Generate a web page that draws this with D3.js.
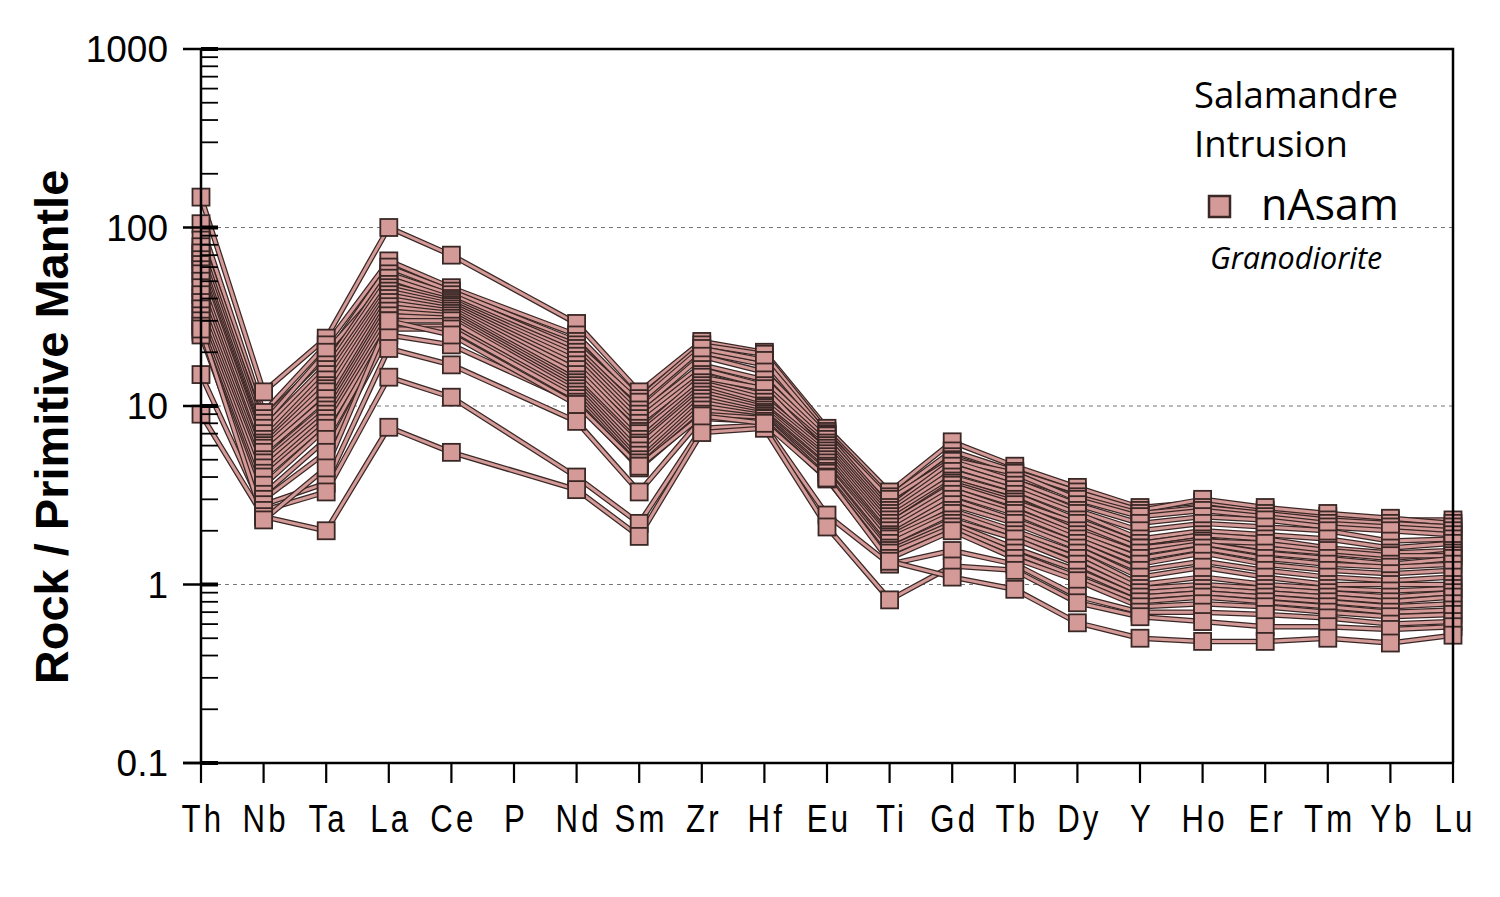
<!DOCTYPE html>
<html>
<head>
<meta charset="utf-8">
<script src="https://cdn.jsdelivr.net/npm/d3@7"></script>
<style>
  body { margin: 0; background: #fff; }
  svg { display: block; }
</style>
</head>
<body>
<svg></svg>
<script>
// element order of the primitive-mantle spider diagram (P has no analyses)
const elements = ["Th", "Nb", "Ta", "La", "Ce", "P", "Nd", "Sm", "Zr", "Hf", "Eu",
  "Ti", "Gd", "Tb", "Dy", "Y", "Ho", "Er", "Tm", "Yb", "Lu"];

const yTicks = [0.1, 1, 10, 100, 1000];
const gridValues = [1, 10, 100];

// nAsam granodiorite samples, normalised values
const s01 = [148, 12, 24, 100, 70, null, 29, 12, 23, 20, 7.5, 3.3, 6.3, 4.6, 3.5, 2.7, 2.9, 2.6, 2.4, 2.3, 2.3];
const s02 = [105, 9.2, 22, 65, 46, null, 25, 11, 22, 19.5, 7.2, 3.1, 5.6, 4.3, 3.3, 2.6, 3.0, 2.7, 2.5, 2.35, 2.2];
const s03 = [85, 8.5, 19, 60, 44, null, 23, 10, 20, 17, 7.0, 2.9, 5.2, 4.0, 3.1, 2.5, 2.7, 2.5, 2.3, 2.2, 2.1];
const s04 = [70, 8.0, 20, 50, 41, null, 22, 10.5, 21, 18, 6.9, 3.0, 5.0, 4.2, 3.0, 2.4, 2.6, 2.4, 2.2, 2.1, 2.0];
const s05 = [78, 7.5, 17, 55, 42, null, 21, 9.5, 19, 15.5, 6.8, 2.7, 4.9, 3.8, 2.8, 2.2, 2.4, 2.3, 2.1, 2.0, 1.9];
const s06 = [72, 7.0, 16, 52, 40, null, 20, 9.0, 17, 14, 6.5, 2.6, 4.6, 3.6, 2.6, 2.0, 2.2, 2.1, 2.0, 1.75, 1.8];
const s07 = [66, 6.5, 15, 48, 39, null, 19, 8.5, 16, 13, 6.2, 2.5, 4.3, 3.4, 2.5, 1.8, 2.0, 1.9, 1.8, 1.6, 1.7];
const s08 = [62, 6.2, 14, 46, 38, null, 18, 8.0, 15, 12, 6.0, 2.4, 4.0, 3.2, 2.3, 1.7, 1.9, 1.8, 1.6, 1.5, 1.55];
const s09 = [58, 6.0, 13, 44, 37, null, 17, 7.5, 14, 11.5, 5.8, 2.3, 3.8, 3.0, 2.1, 1.6, 1.8, 1.6, 1.5, 1.4, 1.5];
const s10 = [40, 4.6, 12.5, 35, 36, null, 15.5, 7.2, 14.5, 12.5, 5.5, 2.2, 3.7, 2.9, 2.2, 1.6, 1.75, 1.7, 1.55, 1.45, 1.45];
const s11 = [55, 5.8, 12, 42, 36, null, 16, 7.0, 13.5, 11, 5.6, 2.2, 3.6, 2.8, 2.0, 1.5, 1.7, 1.5, 1.4, 1.3, 1.4];
const s12 = [50, 5.5, 11, 40, 35, null, 15, 6.5, 13, 10.5, 5.4, 2.1, 3.4, 2.6, 1.9, 1.4, 1.6, 1.4, 1.3, 1.25, 1.3];
const s13 = [46, 5.0, 10, 38, 34, null, 14, 6.2, 12.5, 10, 5.2, 2.0, 3.2, 2.5, 1.8, 1.3, 1.5, 1.3, 1.2, 1.15, 1.2];
const s14 = [42, 4.8, 9.5, 36, 33, null, 13.5, 6.0, 12, 9.8, 5.0, 1.9, 3.0, 2.3, 1.7, 1.2, 1.35, 1.2, 1.1, 1.05, 1.1];
const s15 = [38, 4.5, 9.0, 34, 32, null, 13, 5.6, 11.5, 9.5, 4.8, 1.85, 2.8, 2.2, 1.6, 1.1, 1.25, 1.1, 1.0, 1.0, 1.0];
const s16 = [35, 4.2, 8.5, 32, 31, null, 12.5, 5.3, 11, 9.2, 4.6, 1.8, 2.6, 2.0, 1.5, 1.0, 1.1, 1.0, 0.95, 0.92, 0.95];
const s17 = [32, 4.0, 8.0, 30, 30, null, 12, 5.0, 10.5, 9.0, 4.5, 1.7, 2.5, 1.9, 1.4, 0.95, 1.0, 0.95, 0.9, 0.85, 0.9];
const s18 = [30, 3.6, 7.5, 28, 28, null, 11.5, 4.8, 10, 8.8, 4.3, 1.6, 2.3, 1.8, 1.3, 0.9, 0.95, 0.9, 0.85, 0.8, 0.85];
const s19 = [28, 3.2, 6.5, 27, 27, null, 11, 4.6, 9.5, 8.6, 4.2, 1.55, 2.2, 1.6, 1.2, 0.85, 0.9, 0.85, 0.8, 0.75, 0.78];
const s20 = [26, 3.0, 5.5, 25, 22, null, 10.5, 4.5, 9.0, 8.5, 4.0, 1.5, 2.1, 1.5, 1.1, 0.8, 0.85, 0.8, 0.75, 0.7, 0.72];
const s21 = [25, 2.8, 3.7, 21, 17, null, 8.2, 3.3, 8.5, 8.2, 3.9, 1.4, 2.0, 1.4, 1.05, 0.75, 0.78, 0.75, 0.7, 0.66, 0.68];
const s22 = [15, 2.6, 3.3, 14.5, 11.2, null, 4.0, 2.2, 7.5, 7.8, 2.45, 1.3, 1.55, 1.3, 0.86, 0.7, 0.7, 0.68, 0.65, 0.6, 0.62];
const s23 = [9, 2.4, 2.0, 7.6, 5.5, null, 3.4, 1.86, 7.1, 7.5, 2.1, 0.82, 1.27, 1.2, 0.79, 0.66, 0.62, 0.58, 0.58, 0.56, 0.58];
const s24 = [27, 2.3, 4.5, 30, 25, null, 10.2, 4.6, 8.8, 8.0, 3.95, 1.35, 1.1, 0.94, 0.61, 0.5, 0.48, 0.48, 0.5, 0.47, 0.52];

const samples = [s01, s02, s03, s04, s05, s06, s07, s08, s09, s10, s11, s12,
  s13, s14, s15, s16, s17, s18, s19, s20, s21, s22, s23, s24];

const width = 1500;
const height = 897;
const plotLeft = 201, plotRight = 1453, plotTop = 49, plotBottom = 763;

const fill = "#d49a98";
const dark = "#3a2826";

const svg = d3.select("svg").attr("width", width).attr("height", height);

const x = d3.scalePoint().domain(elements).range([plotLeft, plotRight]);
const y = d3.scaleLog().domain([0.1, 1000]).range([plotBottom, plotTop]);

// dashed gridlines
svg.append("g")
  .selectAll("line")
  .data(gridValues)
  .join("line")
  .attr("x1", plotLeft)
  .attr("x2", plotRight)
  .attr("y1", d => y(d))
  .attr("y2", d => y(d))
  .attr("stroke", "#777")
  .attr("stroke-width", 1.2)
  .attr("stroke-dasharray", "4,4");

// sample lines (dark casing with pink core), P is skipped
const points = samples.map(s =>
  s.map((v, i) => ({ el: elements[i], v: v })).filter(d => d.v != null)
);

const line = d3.line().x(d => x(d.el)).y(d => y(d.v));

const lineGroup = svg.append("g").attr("fill", "none");
points.forEach(p => {
  lineGroup.append("path")
    .attr("d", line(p))
    .attr("stroke", dark)
    .attr("stroke-width", 5.5)
    .attr("stroke-linejoin", "round");
  lineGroup.append("path")
    .attr("d", line(p))
    .attr("stroke", fill)
    .attr("stroke-width", 3)
    .attr("stroke-linejoin", "round");
});

// square markers
const markerSize = 17;
svg.append("g")
  .selectAll("g")
  .data(points)
  .join("g")
  .selectAll("rect")
  .data(d => d)
  .join("rect")
  .attr("x", d => x(d.el) - markerSize / 2)
  .attr("y", d => y(d.v) - markerSize / 2)
  .attr("width", markerSize)
  .attr("height", markerSize)
  .attr("fill", fill)
  .attr("stroke", dark)
  .attr("stroke-width", 1.8);

// frame
svg.append("path")
  .attr("d", `M${plotLeft},${plotTop}H${plotRight}V${plotBottom}`)
  .attr("fill", "none")
  .attr("stroke", "#000")
  .attr("stroke-width", 2.5);

// y axis: minor ticks inside, majors crossing the axis
const minorTicks = [];
for (let e = -1; e < 3; e++) {
  for (let m = 2; m <= 9; m++) minorTicks.push(m * Math.pow(10, e));
}

const yAxis = svg.append("g");
yAxis.append("line")
  .attr("x1", plotLeft).attr("x2", plotLeft)
  .attr("y1", plotTop).attr("y2", plotBottom)
  .attr("stroke", "#000").attr("stroke-width", 2.5);

yAxis.selectAll("line.minor")
  .data(minorTicks)
  .join("line")
  .attr("class", "minor")
  .attr("x1", plotLeft).attr("x2", plotLeft + 17)
  .attr("y1", d => y(d)).attr("y2", d => y(d))
  .attr("stroke", "#000").attr("stroke-width", 1.8);

yAxis.selectAll("line.major")
  .data(yTicks)
  .join("line")
  .attr("class", "major")
  .attr("x1", plotLeft - 18).attr("x2", plotLeft + 17)
  .attr("y1", d => y(d)).attr("y2", d => y(d))
  .attr("stroke", "#000").attr("stroke-width", 2.5);

yAxis.selectAll("line.majorIn")
  .data(yTicks)
  .join("line")
  .attr("class", "majorIn")
  .attr("x1", plotLeft).attr("x2", plotLeft + 17)
  .attr("y1", d => y(d)).attr("y2", d => y(d))
  .attr("stroke", "#000").attr("stroke-width", 4);

yAxis.selectAll("text")
  .data(yTicks)
  .join("text")
  .attr("x", 168)
  .attr("y", d => y(d) + 13)
  .attr("text-anchor", "end")
  .attr("font-family", "Liberation Sans, Arial, sans-serif")
  .attr("font-size", 37)
  .attr("fill", "#000")
  .text(d => d);

// x axis
const xAxis = svg.append("g");
xAxis.append("line")
  .attr("x1", plotLeft - 18).attr("x2", plotRight)
  .attr("y1", plotBottom).attr("y2", plotBottom)
  .attr("stroke", "#000").attr("stroke-width", 2.5);

xAxis.selectAll("line.tick")
  .data(elements)
  .join("line")
  .attr("class", "tick")
  .attr("x1", d => x(d)).attr("x2", d => x(d))
  .attr("y1", plotBottom).attr("y2", plotBottom + 20)
  .attr("stroke", "#000").attr("stroke-width", 2.2);

xAxis.selectAll("text")
  .data(elements)
  .join("text")
  .attr("transform", d => `translate(${x(d) + 2},832) scale(0.8,1)`)
  .attr("text-anchor", "middle")
  .attr("font-family", "Liberation Sans, Arial, sans-serif")
  .attr("font-size", 39)
  .attr("letter-spacing", 4)
  .attr("fill", "#000")
  .text(d => d);

// y axis title
svg.append("text")
  .attr("transform", "translate(68,427) rotate(-90)")
  .attr("text-anchor", "middle")
  .attr("font-family", "Liberation Sans, Arial, sans-serif")
  .attr("font-weight", "bold")
  .attr("font-size", 47)
  .attr("fill", "#000")
  .text("Rock / Primitive Mantle");

// legend
const legend = svg.append("g")
  .attr("font-family", "Open Sans, Noto Sans, sans-serif")
  .attr("fill", "#000");

legend.append("text")
  .attr("x", 1194).attr("y", 108)
  .attr("font-size", 36.5)
  .text("Salamandre");
legend.append("text")
  .attr("x", 1194).attr("y", 157)
  .attr("font-size", 36.5)
  .text("Intrusion");
legend.append("rect")
  .attr("x", 1209).attr("y", 196)
  .attr("width", 21).attr("height", 21)
  .attr("fill", fill)
  .attr("stroke", dark)
  .attr("stroke-width", 2.5);
legend.append("text")
  .attr("x", 1261).attr("y", 220)
  .attr("font-size", 43)
  .text("nAsam");
legend.append("text")
  .attr("x", 1210).attr("y", 269)
  .attr("font-size", 30.5)
  .attr("font-style", "italic")
  .text("Granodiorite");
</script>
</body>
</html>
